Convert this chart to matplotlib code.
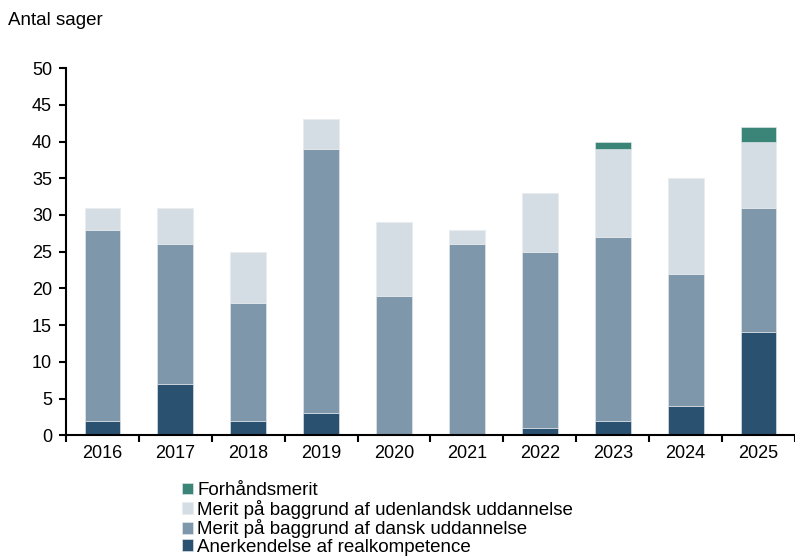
import matplotlib
matplotlib.use("Agg")
import matplotlib.pyplot as plt
import numpy as np

plt.rcParams['font.family'] = ['Liberation Sans', 'DejaVu Sans']

years = ['2016', '2017', '2018', '2019', '2020', '2021', '2022', '2023', '2024', '2025']
realkompetence = [2, 7, 2, 3, 0, 0, 1, 2, 4, 14]
merit_dansk = [26, 19, 16, 36, 19, 26, 24, 25, 18, 17]
merit_udenlandsk = [3, 5, 7, 4, 10, 2, 8, 12, 13, 9]
forhaandsmerit = [0, 0, 0, 0, 0, 0, 0, 1, 0, 2]

labels = ['Anerkendelse af realkompetence',
          'Merit på baggrund af dansk uddannelse',
          'Merit på baggrund af udenlandsk uddannelse',
          'Forhåndsmerit']
colors = ['#2A5170', '#7F97AA', '#D5DDE4', '#3A8478']

fig = plt.figure(figsize=(7.95, 5.58), dpi=100)
ax = fig.add_axes([0.083, 0.22, 0.917, 0.658])

x = np.arange(len(years))
bottom = np.zeros(len(years))
handles = []
for vals, col, lab in zip([realkompetence, merit_dansk, merit_udenlandsk, forhaandsmerit], colors, labels):
    b = ax.bar(x, vals, 0.49, bottom=bottom, color=col, label=lab,
               edgecolor='#E8ECEF', linewidth=0.4)
    handles.append(b)
    bottom += np.array(vals)

ax.set_xlim(-0.5, 9.5)
ax.set_ylim(0, 50)
ax.set_yticks(range(0, 51, 5))
ax.set_xticks(x)
ax.set_xticklabels(years)
ax.set_xticks(np.arange(-0.5, 10, 1), minor=True)
ax.tick_params(axis='x', which='major', length=0, pad=7, labelsize=13)
ax.tick_params(axis='x', which='minor', length=5, width=1.5, direction='out')
ax.tick_params(axis='y', length=5, width=1.5, direction='out', labelsize=13, pad=5)

for s in ['top', 'right']:
    ax.spines[s].set_visible(False)
ax.spines['left'].set_linewidth(1.5)
ax.spines['bottom'].set_linewidth(1.5)

fig.text(0.01, 0.964, 'Antal sager', fontsize=13.5, va='center', ha='left')

fig.legend(handles[::-1], labels[::-1], loc='upper left', bbox_to_anchor=(0.229, 0.136),
           frameon=False, fontsize=13.5, handlelength=0.6, handleheight=0.6,
           handletextpad=0.2, labelspacing=0.03, borderaxespad=0, borderpad=0)

fig.savefig('out.png', dpi=100)
